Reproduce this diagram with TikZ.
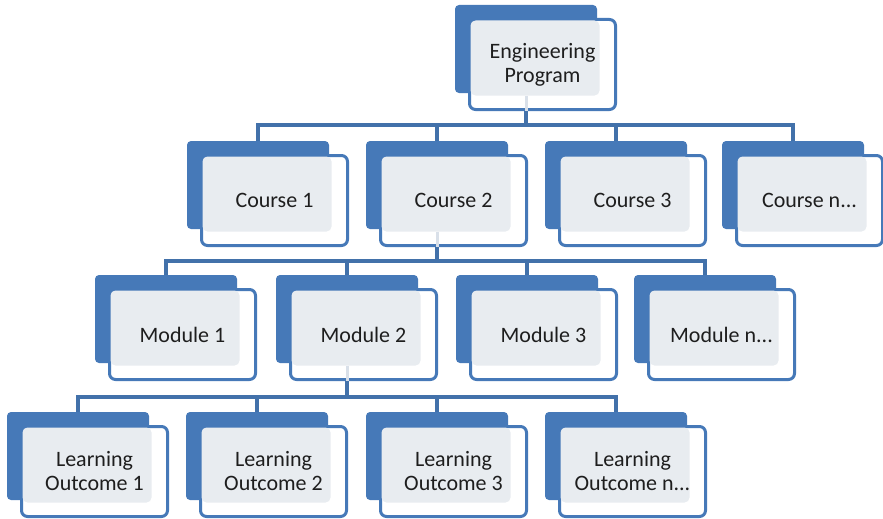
\documentclass[tikz,border=0pt]{standalone}
\usepackage{fontspec}
\setmainfont{Carlito}
\definecolor{boxblue}{HTML}{4679B8}
\definecolor{linkblue}{HTML}{4271AA}
\definecolor{panelgray}{HTML}{E8ECF0}
\definecolor{ghostgray}{HTML}{D9E0E9}
\definecolor{txt}{HTML}{1E1E1E}
\tikzset{
  backbox/.style={rectangle, fill=boxblue, rounded corners=4pt, minimum width=142pt, minimum height=88pt, inner sep=0pt, outer sep=0pt},
  frontbox/.style={rectangle, fill=white, draw=boxblue, line width=3pt, rounded corners=6pt, minimum width=146pt, minimum height=90pt, inner sep=0pt, outer sep=0pt},
  graybox/.style={rectangle, fill=panelgray, rounded corners=5pt, minimum width=129pt, minimum height=75pt, inner sep=0pt, outer sep=0pt},
  labeltext/.style={text=txt, font=\fontsize{22}{24}\selectfont, align=center, inner sep=0pt},
  conn/.style={draw=linkblue, line width=3.2pt},
  ghost/.style={draw=ghostgray, line width=3pt}
}
\newcommand{\orgbox}[4]{%
  \node[backbox] (#1b) at (#2+71,#3+44) {};
  \node[frontbox] (#1) at (#2+87.5,#3+59.5) {};
  \node[graybox] (#1g) at (#2+80,#3+53) {};
  \node[labeltext] (#1t) at (#1.center) {#4};
}
\begin{document}
\begin{tikzpicture}[x=1pt,y=-1pt]
\useasboundingbox (0,0) rectangle (883,519);
\coordinate (busC) at (0,125);
\coordinate (busM) at (0,261);
\coordinate (busL) at (0,397);
% centres of the back boxes
\coordinate (ebc) at (526,49);
\coordinate (c1c) at (258,185);
\coordinate (c2c) at (437,185);
\coordinate (c3c) at (616,185);
\coordinate (cnc) at (793,185);
\coordinate (m1c) at (166,319);
\coordinate (m2c) at (347,319);
\coordinate (m3c) at (527,319);
\coordinate (mnc) at (705,319);
\coordinate (l1c) at (78,456);
\coordinate (l2c) at (257,456);
\coordinate (l3c) at (437,456);
\coordinate (lnc) at (616,456);
% connectors
\draw[conn] (ebc) -- (ebc |- busC);
\draw[conn, line cap=rect] (c1c |- busC) -- (cnc |- busC);
\foreach \k in {c1c,c2c,c3c,cnc} \draw[conn] (\k |- busC) -- (\k);
\draw[conn] (c2c) -- (c2c |- busM);
\draw[conn, line cap=rect] (m1c |- busM) -- (mnc |- busM);
\foreach \k in {m1c,m2c,m3c,mnc} \draw[conn] (\k |- busM) -- (\k);
\draw[conn] (m2c) -- (m2c |- busL);
\draw[conn, line cap=rect] (l1c |- busL) -- (lnc |- busL);
\foreach \k in {l1c,l2c,l3c,lnc} \draw[conn] (\k |- busL) -- (\k);
% boxes
\orgbox{e}{455}{5}{Engineering\\Program}
\orgbox{c1}{187}{141}{Course 1}
\orgbox{c2}{366}{141}{Course 2}
\orgbox{c3}{545}{141}{Course 3}
\orgbox{cn}{722}{141}{Course n...}
\orgbox{m1}{95}{275}{Module 1}
\orgbox{m2}{276}{275}{Module 2}
\orgbox{m3}{456}{275}{Module 3}
\orgbox{mn}{634}{275}{Module n...}
\orgbox{l1}{7}{412}{Learning\\Outcome 1}
\orgbox{l2}{186}{412}{Learning\\Outcome 2}
\orgbox{l3}{366}{412}{Learning\\Outcome 3}
\orgbox{ln}{545}{412}{Learning\\Outcome n...}
% faint connector traces seen through the front panels
\draw[ghost] (eb.south |- eg.south) -- ([yshift=-1.5pt]eb.south |- e.south);
\draw[ghost] (c2b.south |- c2g.south) -- ([yshift=-1.5pt]c2b.south |- c2.south);
\draw[ghost] (m2b.south |- m2g.south) -- ([yshift=-1.5pt]m2b.south |- m2.south);
\end{tikzpicture}
\end{document}
